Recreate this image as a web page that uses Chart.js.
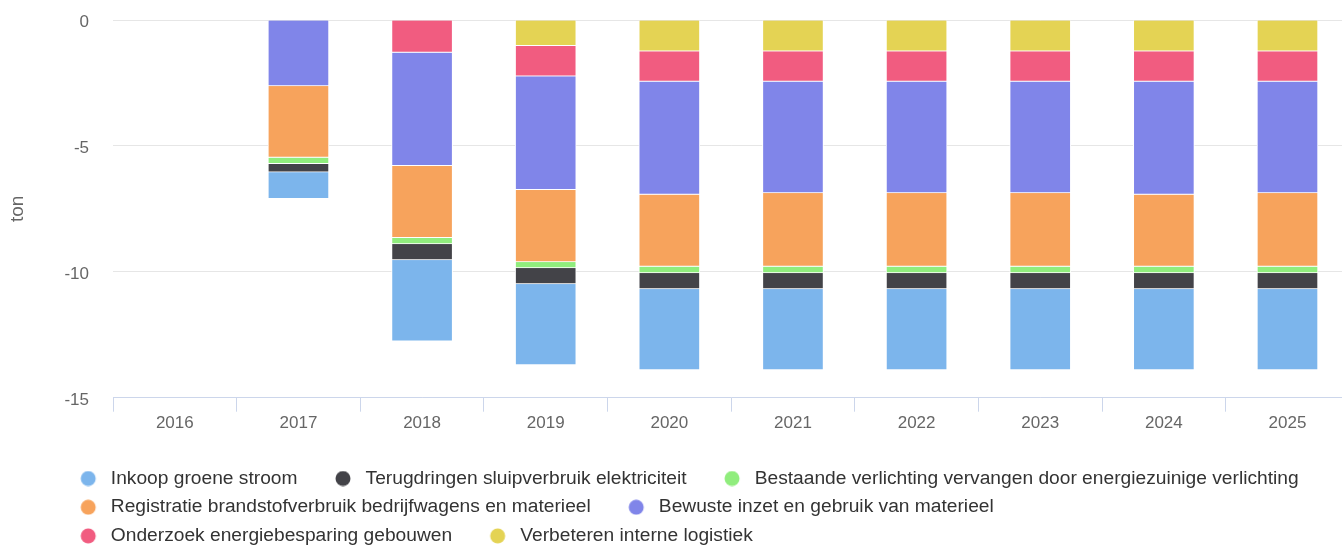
<!DOCTYPE html>
<html>
<head>
<meta charset="utf-8">
<script src="https://cdn.jsdelivr.net/npm/chart.js@4"></script>
<style>
html,body{margin:0;padding:0;background:#fff;overflow:hidden;}
canvas{display:block;}
</style>
</head>
<body>
<canvas id="c" width="1360" height="547"></canvas>
<script>
// ---- data ----
const years = ['2016','2017','2018','2019','2020','2021','2022','2023','2024','2025'];
const inkoopGroeneStroom   = [null, -1.06, -3.22, -3.22, -3.22, -3.22, -3.22, -3.22, -3.22, -3.22];
const terugdringenSluip    = [null, -0.33, -0.64, -0.63, -0.64, -0.64, -0.64, -0.64, -0.64, -0.64];
const bestaandeVerlichting = [null, -0.25, -0.25, -0.24, -0.25, -0.25, -0.25, -0.25, -0.25, -0.25];
const registratieBrandstof = [null, -2.84, -2.85, -2.87, -2.86, -2.92, -2.92, -2.92, -2.86, -2.92];
const bewusteInzet         = [null, -2.62, -4.50, -4.51, -4.49, -4.43, -4.43, -4.43, -4.49, -4.43];
const onderzoekGebouwen    = [null, null, -1.29, -1.21, -1.20, -1.20, -1.20, -1.20, -1.20, -1.20];
const verbeterenLogistiek  = [null, null, null, -1.02, -1.24, -1.24, -1.24, -1.24, -1.24, -1.24];
const yTicks = [-15, -10, -5, 0];

const series = [
  // stacking order from zero outward
  {label:'Verbeteren interne logistiek', data: verbeterenLogistiek, color:'#e4d354'},
  {label:'Onderzoek energiebesparing gebouwen', data: onderzoekGebouwen, color:'#f15c80'},
  {label:'Bewuste inzet en gebruik van materieel', data: bewusteInzet, color:'#8085e9'},
  {label:'Registratie brandstofverbruik bedrijfwagens en materieel', data: registratieBrandstof, color:'#f7a35c'},
  {label:'Bestaande verlichting vervangen door energiezuinige verlichting', data: bestaandeVerlichting, color:'#90ed7d'},
  {label:'Terugdringen sluipverbruik elektriciteit', data: terugdringenSluip, color:'#434348'},
  {label:'Inkoop groene stroom', data: inkoopGroeneStroom, color:'#7cb5ec'}
];

const BOXW = 49;
function marker(color){
  const cv = document.createElement('canvas');
  cv.width = BOXW; cv.height = 16;
  const g = cv.getContext('2d');
  g.fillStyle = color;
  g.beginPath();
  g.arc(BOXW - 13, 8, 7.5, 0, Math.PI*2);
  g.fill();
  return cv;
}

const datasets = series.map(s => ({
  label: s.label,
  data: s.data,
  backgroundColor: s.color,
  borderColor: '#ffffff',
  borderWidth: 1,
  pointStyle: marker(s.color),
  barThickness: 61,
  stack: 's'
}));

const legendShift = {
  id: 'legendShift',
  afterLayout(chart){
    const lg = chart.legend;
    lg.left += 42.7;
    lg.top += 8.5;
    lg.bottom += 8.5;
  }
};

new Chart(document.getElementById('c'), {
  type: 'bar',
  data: { labels: years, datasets },
  plugins: [legendShift],
  options: {
    responsive: false,
    animation: false,
    devicePixelRatio: 1,
    layout: { padding: { top: 20, right: 10.7, bottom: 0, left: 0 } },
    plugins: {
      tooltip: { enabled: false },
      legend: {
        position: 'bottom',
        align: 'start',
        reverse: true,
        labels: {
          usePointStyle: true,
          pointStyleWidth: BOXW,
          padding: 9.5,
          color: '#333333',
          font: { family: '"Liberation Sans", Arial, Helvetica, sans-serif', size: 19.2 }
        }
      }
    },
    scales: {
      x: {
        stacked: true,
        afterFit(axis){ axis.height = 53.2; },
        grid: {
          offset: true,
          drawOnChartArea: false,
          drawTicks: true,
          tickLength: 14,
          tickColor: '#ccd6eb'
        },
        border: { display: true, color: '#ccd6eb', width: 1 },
        ticks: {
          color: '#666666',
          padding: 1,
          autoSkip: false,
          maxRotation: 0,
          font: { family: '"Liberation Sans", Arial, Helvetica, sans-serif', size: 17 }
        }
      },
      y: {
        stacked: true,
        min: -15,
        max: 0,
        afterFit(axis){ axis.width = 113; axis.paddingTop = 10; axis.paddingBottom = 10; },
        afterBuildTicks(axis){ axis.ticks = yTicks.map(v => ({value: v})); },
        grid: { color: '#e6e6e6', drawTicks: false },
        border: { display: false },
        title: {
          display: true,
          text: 'ton',
          color: '#666666',
          padding: { top: 6, bottom: 0 },
          font: { family: '"Liberation Sans", Arial, Helvetica, sans-serif', size: 19 }
        },
        ticks: {
          color: '#666666',
          padding: 24,
          labelOffset: 2.5,
          font: { family: '"Liberation Sans", Arial, Helvetica, sans-serif', size: 17 }
        }
      }
    }
  }
});
</script>
</body>
</html>
